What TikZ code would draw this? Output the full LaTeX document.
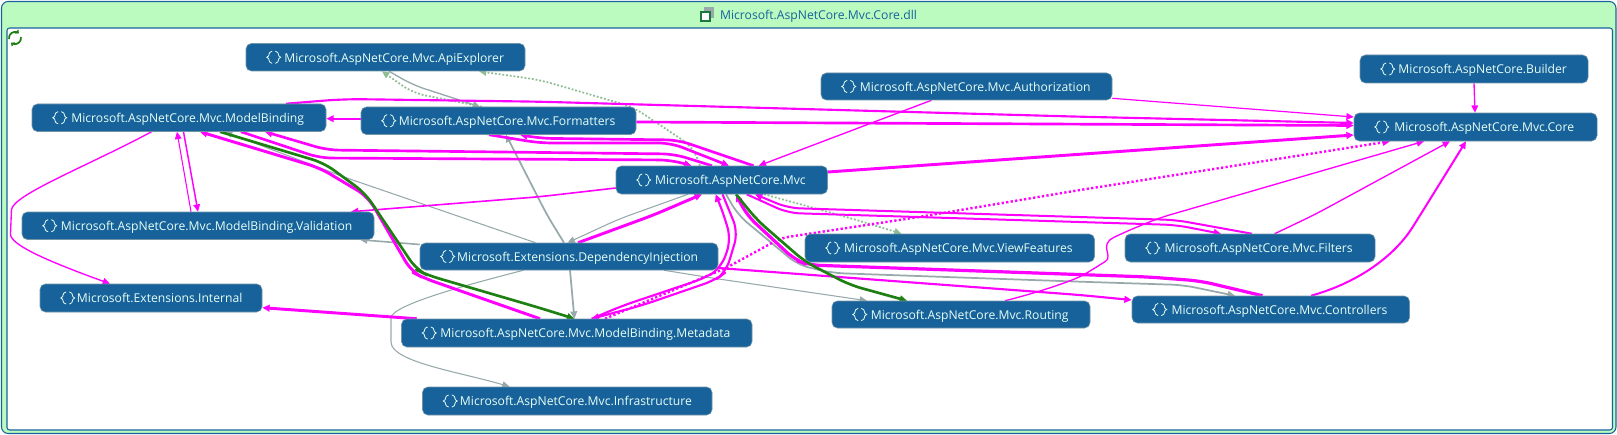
\documentclass[tikz,border=0pt]{standalone}
\usepackage{fontspec}
\setmainfont{Open Sans}
\usetikzlibrary{arrows.meta}
\pgfdeclarelayer{frame}\pgfdeclarelayer{edges}
\pgfsetlayers{frame,edges,main}
\definecolor{nsblue}{HTML}{17629B}
\definecolor{dllgreen}{HTML}{BBFBC0}
\definecolor{edgepink}{HTML}{FF00FF}
\definecolor{edgegray}{HTML}{98A9AC}
\definecolor{edgegreen}{HTML}{1E8013}
\definecolor{dotgreen}{HTML}{8FBC95}
\definecolor{nstext}{HTML}{E6FFF5}
\tikzset{
 x=0.75pt,y=-0.75pt,
 nsbox/.style={draw=edgegray!70!nsblue,line width=0.4pt,fill=nsblue,rounded corners=4pt,inner sep=0pt,text=nstext,font=\fontsize{9.12pt}{10pt}\selectfont},
 nsicon/.style={draw=nstext,line width=0.6pt},
 ed/.style={line join=round,rounded corners=9pt,-{Triangle[length=5.5pt,width=5pt]}},
 pk/.style={ed,draw=edgepink,line width=#1},pk/.default=1pt,
 gy/.style={ed,draw=edgegray,line width=#1},gy/.default=0.8pt,
 gn/.style={ed,draw=edgegreen,line width=2pt},
 pkdot/.style={ed,draw=edgepink,line width=1.8pt,dash pattern=on 1.7pt off 1.7pt},
 grdot/.style={ed,draw=dotgreen,line width=1.3pt,dash pattern=on 1.4pt off 1.4pt},
 refresh/.style={draw=edgegreen,line width=1.3pt,-{Triangle[length=2.2pt,width=4pt]}},
}
\newcommand\nsnode[6]{\node[nsbox,minimum width={(#4-#2)*0.75pt},minimum height={(#5-#3)*0.75pt}] (#1) at ({(#2+#4)/2},{(#3+#5)/2}) {\raisebox{-3.6pt}[0pt][0pt]{\hspace*{13pt}#6}};
 \begin{scope}[shift={(#1.west)}]
  \draw[nsicon] (19.8pt,-4.6pt) .. controls (16pt,-3.5pt) and (18.8pt,-1pt) .. (15.8pt,0pt) .. controls (18.8pt,1pt) and (16pt,3.5pt) .. (19.8pt,4.6pt);
  \draw[nsicon] (22.2pt,-4.6pt) .. controls (26pt,-3.5pt) and (23.2pt,-1pt) .. (26.2pt,0pt) .. controls (23.2pt,1pt) and (26pt,3.5pt) .. (22.2pt,4.6pt);
 \end{scope}}
\begin{document}
\begin{tikzpicture}
\useasboundingbox (0,0) rectangle (1617,435);
\begin{pgfonlayer}{frame}
 \draw[draw=nsblue,fill=dllgreen,line width=0.8pt,rounded corners=5pt] (1.5,1.5) rectangle (1616,433.5);
 \draw[draw=nsblue,fill=white,line width=0.8pt,rounded corners=2pt] (7,28) rectangle (1612.5,430);
\end{pgfonlayer}
\node[text=nsblue,font=\fontsize{9.13pt}{10pt}\selectfont,inner sep=0pt] (title) at (818.5,16) {Microsoft.AspNetCore.Mvc.Core.dll};
% title icon
\fill[edgegray] (704,7.5) rectangle (714,18);
\draw[edgegreen!70!nsblue,fill=white,line width=1pt] (701,12) rectangle (710,21);
% refresh icon
\draw[refresh] (9.1,39) arc[start angle=190,end angle=50,radius=4.5pt];
\draw[refresh] (20.9,37) arc[start angle=10,end angle=-130,radius=4.5pt];
\nsnode{api}{246}{43.5}{525}{71}{Microsoft.AspNetCore.Mvc.ApiExplorer}
\nsnode{mb}{32}{104}{326}{131.5}{Microsoft.AspNetCore.Mvc.ModelBinding}
\nsnode{fmt}{361}{107}{636}{134.5}{Microsoft.AspNetCore.Mvc.Formatters}
\nsnode{mvc}{616}{166}{827.5}{194}{Microsoft.AspNetCore.Mvc}
\nsnode{auth}{821}{73}{1112}{100}{Microsoft.AspNetCore.Mvc.Authorization}
\nsnode{bld}{1360}{55}{1588}{83}{Microsoft.AspNetCore.Builder}
\nsnode{core}{1354}{113}{1597}{141}{Microsoft.AspNetCore.Mvc.Core}
\nsnode{val}{22}{212}{374}{239.5}{Microsoft.AspNetCore.Mvc.ModelBinding.Validation}
\nsnode{di}{420}{243}{718}{270}{Microsoft.Extensions.DependencyInjection}
\nsnode{int}{40}{284}{262}{312}{Microsoft.Extensions.Internal}
\nsnode{meta}{401.5}{319}{752}{347}{Microsoft.AspNetCore.Mvc.ModelBinding.Metadata}
\nsnode{infra}{422.5}{387}{712}{415}{Microsoft.AspNetCore.Mvc.Infrastructure}
\nsnode{vf}{805}{234}{1094.5}{262}{Microsoft.AspNetCore.Mvc.ViewFeatures}
\nsnode{rt}{832}{301}{1090}{328}{Microsoft.AspNetCore.Mvc.Routing}
\nsnode{flt}{1125}{234}{1375}{262}{Microsoft.AspNetCore.Mvc.Filters}
\nsnode{ctl}{1132}{296}{1409.5}{323}{Microsoft.AspNetCore.Mvc.Controllers}
\begin{pgfonlayer}{edges}
% gray and dotted green
\draw[gy=1pt] (389,0 |- api.south) -- (413,85) -- (480,0 |- fmt.north);
\draw[grdot] (482,0 |- fmt.north) -- (413,93) -- (382,0 |- api.south);
\draw[grdot] (700,0 |- mvc.north) -- (693,147) -- (633,107) -- (540,80) -- (479,0 |- api.south);
\draw[grdot] (764,0 |- mvc.south) -- (850,218) -- (901.6,0 |- vf.north);
\draw[gy] (535.5,0 |- di.north) -- (344,177) -- (225,0 |- mb.south);
\draw[gy=1.3pt] (564,0 |- di.north) -- (547,215) -- (506,0 |- fmt.south);
\draw[gy=1.3pt] (570,0 |- di.south) -- (574.4,0 |- meta.north);
\draw[gy=1.2pt] (di.west |- 0,244.5) -- (360,0 |- val.south);
\draw[gy] (523.4,0 |- di.south) .. controls (470,284) and (391,305) .. (391,330) .. controls (391,362) and (460,372) .. (509.6,0 |- infra.north);
\draw[gy] (664,0 |- di.south) -- (712,278) -- (867,0 |- rt.north);
\draw[gy] (688,0 |- mvc.south) -- (619,219) -- (567.5,0 |- di.north);
\draw[gy=1.3pt] (726,0 |- mvc.south) -- (738,215) -- (798,265) -- (832.7,273) -- (1080,281.7) -- (1183,285) -- (1235,0 |- ctl.north);
% pink
\draw[pk=0.9pt] (auth.east |- 0,98.3) -- (core.west |- 0,117);
\draw[pk=1pt] (931.5,0 |- auth.south) -- (758.7,0 |- mvc.north);
\draw[pk=1pt] (1474,0 |- bld.south) -- (1475,0 |- core.north);
\draw[pk=1.2pt] (fmt.west |- 0,118.7) -- (mb.east |- 0,118.7);
\draw[pk=1.6pt,rounded corners=14pt] (286,0 |- mb.north) -- (344,99) -- (540,101.7) -- (1080,116.7) -- (core.west |- 0,123);
\draw[pk=2pt] (fmt.east |- 0,122) -- (core.west |- 0,125.5);
\draw[pk=2.2pt] (mvc.east |- 0,172) -- (core.west |- 0,135);
\draw[pkdot,rounded corners=6pt] (605,0 |- meta.north) -- (726,268) -- (781,238) -- (919,217) -- (1080,190) -- (1390,0 |- core.south);
\draw[pk=1pt] (1005,0 |- rt.north) .. controls (1040,292) and (1075,280) .. (1095,268) .. controls (1114,256) and (1098,245) .. (1125,232) -- (1159,218) -- (1424,0 |- core.south);
\draw[pk=1pt] (1274.6,0 |- flt.north) -- (1314,215) -- (1450,0 |- core.south);
\draw[pk=1.5pt] (1311,0 |- ctl.north) .. controls (1360,282) and (1395,255) .. (1419,217) -- (1466,0 |- core.south);
\draw[pk=1.2pt] (mvc.west |- 0,188) -- (540,196.7) -- (351,0 |- val.north);
\draw[pk=1pt] (151.5,0 |- mb.south) .. controls (90,165) and (12,195) .. (11,222) .. controls (10,245) and (50,262) .. (110,0 |- int.north);
\draw[pk=0.8pt] (191,0 |- val.north) -- (177,0 |- mb.south);
\draw[pk=1.1pt] (183.5,0 |- mb.south) -- (198,0 |- val.north);
\draw[pk=2.2pt] (416.7,0 |- meta.north) -- (int.east |- 0,307.7);
% bundle between ModelBinding/Formatters and Mvc
\draw[pk=2pt] (489,0 |- fmt.south) -- (540,143) -- (671,143) -- (729,0 |- mvc.north);
\draw[pk=2pt] (753.5,0 |- mvc.north) -- (678,140) -- (540,138.3) -- (520,0 |- fmt.south);
\draw[pk=2pt] (712,0 |- mvc.north) -- (674,154) -- (327,150) -- (265,0 |- mb.south);
\draw[pk=2pt] (241,0 |- mb.south) -- (320,158) -- (671,160) -- (691.5,0 |- mvc.north);
% long pink beside green
\draw[pk=2.2pt] (540,0 |- meta.north) -- (423.6,278) -- (411.5,271.7) -- (368,196.7) -- (320,168) -- (200,0 |- mb.south);
% Mvc <-> Metadata
\draw[pk=1.6pt] (591.6,0 |- meta.north) -- (622.6,305.7) -- (705,278) -- (721,268) -- (731,240) -- (724,215) -- (715.6,0 |- mvc.south);
\draw[pk=1.6pt] (722.5,0 |- mvc.south) -- (738,232) -- (726,272) -- (715.6,280) -- (643,305) -- (591.6,0 |- meta.north);
\draw[pk=2.2pt] (578,0 |- di.north) -- (653.6,215) -- (702,0 |- mvc.south);
\draw[pk=1.6pt] (di.east |- 0,268) -- (1080,295) -- (ctl.west |- 0,300);
\draw[pk=2.4pt] (1262.5,0 |- ctl.north) -- (1200.5,281) -- (1149,277) -- (808.6,265) -- (795,260) -- (746.6,215) -- (736,0 |- mvc.south);
\draw[pk=1.5pt] (1252,0 |- flt.north) -- (1176,220) -- (788,208) -- (755,0 |- mvc.south);
\draw[pk=1.5pt] (746.6,0 |- mvc.south) -- (788,213) -- (1176,225) -- (1221,0 |- flt.north);
% green
\draw[gn] (220,0 |- mb.south) -- (324,163) -- (365,193) -- (416.7,270) -- (427,275) -- (540,308) -- (574.4,0 |- meta.north);
\draw[gn] (736,0 |- mvc.south) -- (757,220) -- (805,261.7) -- (850,285) -- (907,0 |- rt.north);
\end{pgfonlayer}
\end{tikzpicture}
\end{document}
